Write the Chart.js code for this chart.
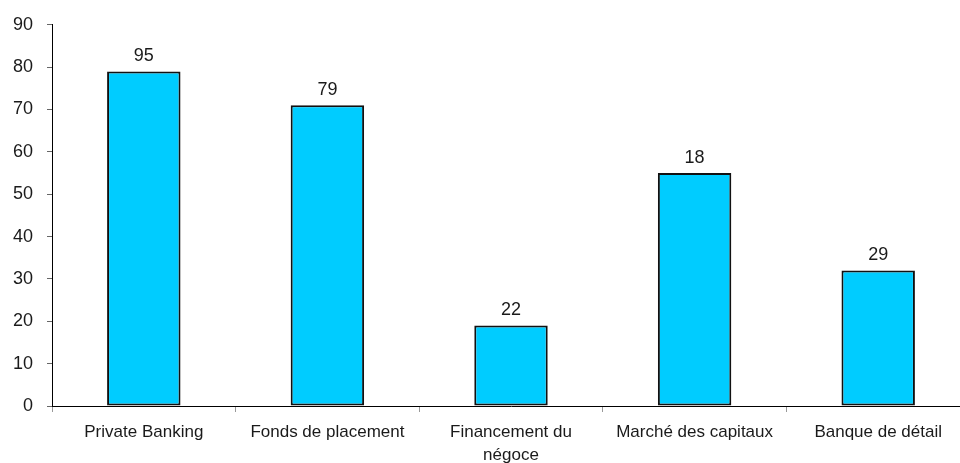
<!DOCTYPE html>
<html>
<head>
<meta charset="utf-8">
<script src="https://cdn.jsdelivr.net/npm/chart.js@4/dist/chart.umd.min.js"></script>
<style>
    html, body { margin: 0; padding: 0; background: #fff; overflow: hidden; }
    #wrap { width: 960px; height: 463px; overflow: hidden; }
</style>
</head>
<body>
<div id="wrap"><canvas id="bank_chart" width="970" height="463"></canvas></div>
<script>
// bars and the numbers written over them (they are not the same in the source)
let labels = ['Private Banking', 'Fonds de placement', ['Financement du', 'négoce'], 'Marché des capitaux', 'Banque de détail']
let heights = [79, 71, 19, 55, 32]
let shown = [95, 79, 22, 18, 29]

Chart.defaults.font.family = "'Liberation Sans', Arial, sans-serif"
Chart.defaults.color = '#1a1a1a'

// writes the number above each bar
const barText = {
    id: 'barText',
    afterDatasetsDraw(chart) {
        let c = chart.ctx
        let meta = chart.getDatasetMeta(0)
        c.save()
        c.font = "18px 'Liberation Sans', Arial, sans-serif"
        c.fillStyle = '#1a1a1a'
        c.textAlign = 'center'
        c.textBaseline = 'middle'
        meta.data.forEach(function (bar, i) {
            c.fillText(shown[i], bar.x, bar.y - 15)
        })
        c.restore()
    }
}

let ctx = document.getElementById('bank_chart')

var bank_chart = new Chart(ctx, {
    type: 'bar',
    data: {
        labels: labels,
        datasets: [{
            data: heights,
            backgroundColor: '#00CCFF',
            borderColor: '#111',
            borderWidth: 2,
            borderSkipped: false,
            barPercentage: 0.4,
            categoryPercentage: 1.0
        }]
    },
    options: {
        responsive: false,
        animation: false,
        layout: { padding: { top: 23, left: 0, right: 0, bottom: 0 } },
        plugins: {
            legend: { display: false },
            tooltip: { enabled: false }
        },
        scales: {
            x: {
                afterFit: function (s) { s.height = 57 },
                border: { color: '#000', width: 1 },
                grid: { drawOnChartArea: false, drawTicks: true, tickLength: 6, color: '#999', offset: true },
                ticks: {
                    padding: 9,
                    maxRotation: 0,
                    autoSkip: false,
                    font: { size: 17, lineHeight: 1.35 },
                    color: '#1a1a1a'
                }
            },
            y: {
                min: 0,
                max: 90,
                afterFit: function (s) { s.width = 52 },
                border: { color: '#000', width: 1 },
                grid: { drawOnChartArea: false, drawTicks: true, tickLength: 5, color: '#666' },
                ticks: {
                    stepSize: 10,
                    padding: 14,
                    font: { size: 18 },
                    color: '#1a1a1a'
                }
            }
        }
    },
    plugins: [barText]
})
</script>
</body>
</html>
